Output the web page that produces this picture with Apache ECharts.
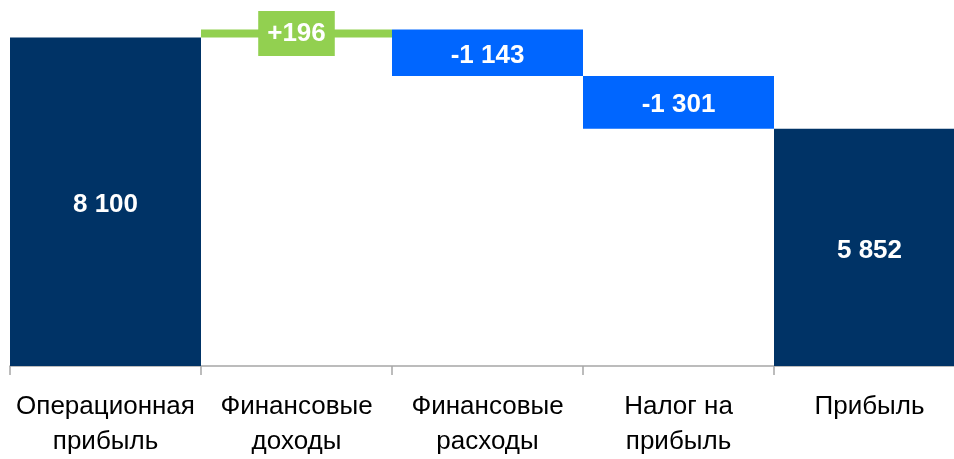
<!DOCTYPE html>
<html>
<head>
<meta charset="utf-8">
<script src="https://cdn.jsdelivr.net/npm/echarts@6/dist/echarts.min.js"></script>
<style>html,body{margin:0;padding:0;background:#fff}#c{width:954px;height:459px}</style>
</head>
<body>
<div id="c"></div>
<script>
var categories = ['Операционная\nприбыль', 'Финансовые\nдоходы', 'Финансовые\nрасходы', 'Налог на\nприбыль', 'Прибыль'];
var values = [8100, 196, -1143, -1301, 5852];
var kinds = ['total', 'delta', 'delta', 'delta', 'total'];

var NAVY = '#003366', GREEN = '#92d050', BLUE = '#0066ff';
var FONT = "'Liberation Sans Narrow', 'Arial Narrow', 'Liberation Sans', Arial, sans-serif";

function fmt(v, sign) {
  var s = String(Math.abs(v)).replace(/\B(?=(\d{3})+(?!\d))/g, ' ');
  if (v < 0) return '-' + s;
  return sign ? '+' + s : s;
}

var base = [], bars = [], running = 0;
values.forEach(function (v, i) {
  if (kinds[i] === 'total') {
    base.push(0);
    running = v;
    bars.push({ value: v, itemStyle: { color: NAVY }, label: { formatter: fmt(v, false) } });
  } else if (v >= 0) {
    base.push(running);
    running += v;
    bars.push({ value: v, itemStyle: { color: GREEN },
      label: { formatter: fmt(v, true), backgroundColor: GREEN, padding: [8, 9, 6, 9], lineHeight: 31, offset: [0, 0] } });
  } else {
    running += v;
    base.push(running);
    bars.push({ value: -v, itemStyle: { color: BLUE }, label: { formatter: fmt(v, false) } });
  }
});

var chart = echarts.init(document.getElementById('c'));
chart.setOption({
  animation: false,
  grid: { left: 10, top: 1, width: 955, height: 365, containLabel: false, outerBoundsMode: 'none' },
  xAxis: {
    type: 'category',
    data: categories,
    boundaryGap: true,
    axisLine: { lineStyle: { color: '#a6a6a6', width: 1.5 } },
    axisTick: { show: true, length: 9, lineStyle: { color: '#a6a6a6', width: 1.5 } },
    axisLabel: { interval: 0, color: '#000', fontFamily: FONT, fontSize: 26, lineHeight: 35, margin: 23, hideOverlap: false }
  },
  yAxis: { type: 'value', min: 0, max: 9000, show: false, splitLine: { show: false } },
  series: [
    { type: 'bar', stack: 'w', data: base, barCategoryGap: 0, itemStyle: { color: 'transparent' }, silent: true },
    { type: 'bar', stack: 'w', data: bars, barCategoryGap: 0,
      label: { show: true, position: 'inside', offset: [0, 3], color: '#fff', fontFamily: FONT, fontSize: 26, fontWeight: 'bold' } }
  ]
});
</script>
</body>
</html>
